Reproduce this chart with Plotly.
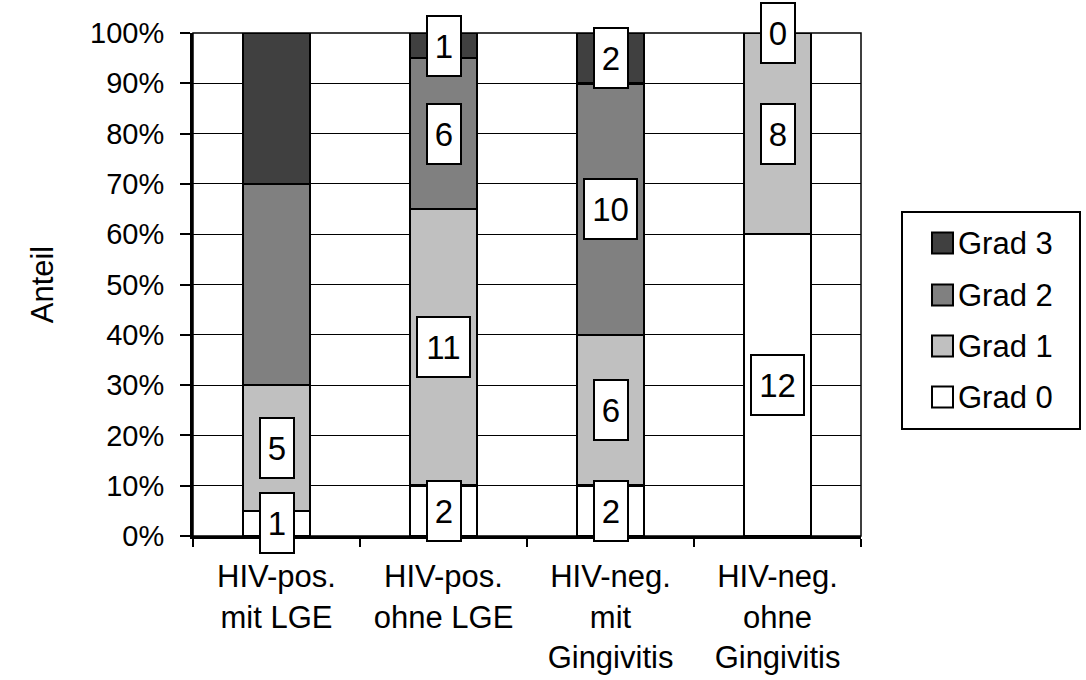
import plotly.graph_objects as go

categories = ["HIV-pos. mit LGE", "HIV-pos. ohne LGE", "HIV-neg. mit Gingivitis", "HIV-neg. ohne Gingivitis"]
tick_labels = ["HIV-pos.<br>mit LGE", "HIV-pos.<br>ohne LGE", "HIV-neg.<br>mit<br>Gingivitis", "HIV-neg.<br>ohne<br>Gingivitis"]
series_names = ["Grad 0", "Grad 1", "Grad 2", "Grad 3"]
grad0 = [1, 2, 2, 12]
grad1 = [5, 11, 6, 8]
grad2 = [8, 6, 10, 0]
grad3 = [6, 1, 2, 0]
# which value labels are shown (first bar's upper segments carry no label)
show0 = [True, True, True, True]
show1 = [True, True, True, True]
show2 = [False, True, True, False]
show3 = [False, True, True, True]
colors = ["#FFFFFF", "#C0C0C0", "#808080", "#404040"]
y_ticks = list(range(0, 101, 10))

series = [grad0, grad1, grad2, grad3]
shows = [show0, show1, show2, show3]
FONT = "Liberation Sans, Arial, sans-serif"

fig = go.Figure()
for name, vals, col in zip(series_names, series, colors):
    fig.add_trace(go.Bar(
        x=categories, y=vals, name=name,
        marker=dict(color=col, line=dict(color="black", width=2.5)),
        showlegend=False,
    ))

totals = [sum(s[i] for s in series) for i in range(len(categories))]
annotations = []
for i, cat in enumerate(categories):
    cum = 0.0
    for s, sh in zip(series, shows):
        pct = s[i] / totals[i] * 100
        mid = cum + pct / 2
        cum += pct
        if sh[i]:
            txt = str(s[i])
            annotations.append(dict(
                x=cat, y=mid, xref="x", yref="y", text=txt, showarrow=False,
                font=dict(family=FONT, size=33, color="black"),
                bgcolor="white", bordercolor="black", borderwidth=2,
                width=32 if len(txt) == 1 else 51, height=58, borderpad=0,
            ))

# legend (drawn manually for Excel-like layout)
PL, PR, PT, PB = 193, 861, 33, 536
W, H = PR - PL, PB - PT
def px_x(x):
    return (x - PL) / W
def px_y(y):
    return (PB - y) / H

shapes = [
    dict(type="rect", xref="paper", yref="paper", x0=0, x1=1, y0=0, y1=1,
         line=dict(color="black", width=1.5), layer="below"),
    dict(type="rect", xref="paper", yref="paper", x0=px_x(902), x1=px_x(1080),
         y0=px_y(429), y1=px_y(212), line=dict(color="black", width=2), fillcolor="white"),
]
leg_y = [397, 346, 295, 243]
for name, col, yc in zip(series_names, colors, leg_y):
    shapes.append(dict(type="rect", xref="paper", yref="paper",
                       x0=px_x(932), x1=px_x(953), y0=px_y(yc + 10.5), y1=px_y(yc - 10.5),
                       fillcolor=col, line=dict(color="black", width=2)))
    annotations.append(dict(x=px_x(956), y=px_y(yc), xref="paper", yref="paper",
                            text=name, showarrow=False, xanchor="left", yanchor="middle",
                            font=dict(family=FONT, size=31, color="black")))

fig.update_layout(
    width=1086, height=680,
    margin=dict(l=PL, r=1086 - PR, t=PT, b=680 - PB, autoexpand=False),
    barmode="stack", barnorm="percent", bargap=0.6,
    plot_bgcolor="white", paper_bgcolor="white",
    font=dict(family=FONT, size=29, color="black"),
    annotations=annotations, shapes=shapes,
    showlegend=False,
)
fig.update_xaxes(
    type="category", tickmode="array", tickvals=categories, ticktext=tick_labels,
    tickfont=dict(family=FONT, size=31), tickson="boundaries",
    ticks="outside", ticklen=8, tickwidth=2, tickcolor="black", ticklabelstandoff=11,
    showline=True, linecolor="black", linewidth=3, showgrid=False,
)
fig.update_yaxes(
    range=[0, 100], tickvals=y_ticks, ticktext=[f"{v}%" for v in y_ticks],
    tickfont=dict(family=FONT, size=29),
    ticks="outside", ticklen=10, tickwidth=2, tickcolor="black",
    ticklabelstandoff=10,
    showline=True, linecolor="black", linewidth=3,
    showgrid=True, gridcolor="black", gridwidth=1, zeroline=False,
    title=dict(text="Anteil", standoff=28, font=dict(family=FONT, size=31)),
    automargin=False,
)
fig.write_html("out.html")
